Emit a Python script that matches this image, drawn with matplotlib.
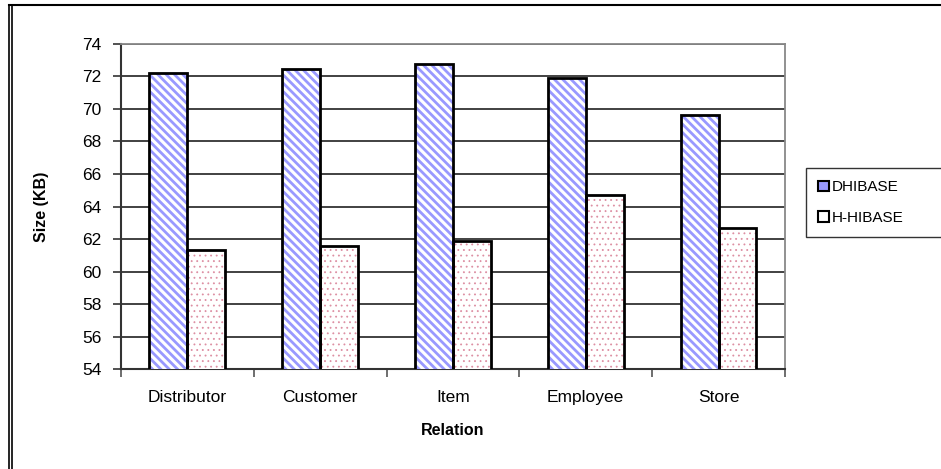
import numpy as np
import matplotlib as mpl
import matplotlib.pyplot as plt
from matplotlib.lines import Line2D
from matplotlib.patches import Patch

plt.rcParams['font.family'] = ['Liberation Sans', 'DejaVu Sans']

# Size of each relation under the two storage schemes
relations = ['Distributor', 'Customer', 'Item', 'Employee', 'Store']
dhibase = [72.2, 72.45, 72.75, 71.9, 69.65]
h_hibase = [61.3, 61.6, 61.9, 64.7, 62.7]

fig = plt.figure(figsize=(9.41, 4.69), dpi=100)
ax = fig.add_axes([0.1286, 0.2132, 0.7055, 0.6930])

x = np.arange(len(relations))
w = 1 / 3.5  # Excel gap width 150%

# hatched fills first, black outlines on top
with mpl.rc_context({'hatch.linewidth': 2.0}):
    ax.bar(x - w / 2, dhibase, w, color='white', edgecolor='#9999ff',
           hatch='\\\\\\\\', linewidth=0, zorder=3)
with mpl.rc_context({'hatch.linewidth': 0.6}):
    ax.bar(x + w / 2, h_hibase, w, color='white', edgecolor='#dd8fa3',
           hatch='...', linewidth=0, zorder=3)
ax.bar(x - w / 2, dhibase, w, fill=False, edgecolor='black', linewidth=2, zorder=4)
ax.bar(x + w / 2, h_hibase, w, fill=False, edgecolor='black', linewidth=2, zorder=4)

ax.set_xlim(-0.5, len(relations) - 0.5)
ax.set_ylim(54, 74)
ax.set_yticks(np.arange(54, 75, 2))
ax.yaxis.grid(True, color='#333333', linewidth=1.3, zorder=1)
ax.set_axisbelow(True)

# ticks on category borders, labels at centres
ax.set_xticks(np.arange(-0.5, len(relations), 1))
ax.set_xticklabels([])
ax.set_xticks(x, minor=True)
ax.set_xticklabels(relations, minor=True, fontsize=12.5)
ax.tick_params(axis='x', which='minor', length=0, pad=15)
ax.tick_params(axis='x', which='major', length=6, width=1.2, color='#555555')
ax.tick_params(axis='y', length=6, width=1.2, color='#333333', pad=8, labelsize=12.5)

for side in ['top', 'right']:
    ax.spines[side].set_color('#888888')
    ax.spines[side].set_linewidth(1.3)
for side in ['left', 'bottom']:
    ax.spines[side].set_color('#333333')
    ax.spines[side].set_linewidth(1.5)

ax.set_xlabel('Relation', fontsize=11.5, fontweight='bold', labelpad=13)
ax.set_ylabel('Size (KB)', fontsize=11.5, fontweight='bold', labelpad=24)

handles = [Patch(facecolor='#9999ff', edgecolor='black', linewidth=1.5),
           Patch(facecolor='white', edgecolor='black', linewidth=1.5)]
leg = fig.legend(handles, ['DHIBASE', 'H-HIBASE'], loc='upper left',
                 bbox_to_anchor=(806 / 941, 1 - 168 / 469, 0.2, 0.0), mode='expand',
                 frameon=True, fancybox=False, fontsize=11, handlelength=0.7,
                 handleheight=0.7, handletextpad=0.2, labelspacing=1.1,
                 borderpad=0.8, borderaxespad=0)
leg.get_frame().set_edgecolor('black')
leg.get_frame().set_linewidth(1.0)

# outer frame of the chart area
fig.add_artist(Line2D([9 / 941, 1], [1 - 5 / 469, 1 - 5 / 469], color='black', linewidth=1.5))
fig.add_artist(Line2D([9 / 941, 9 / 941], [0, 1 - 5 / 469], color='black', linewidth=1.2))
fig.add_artist(Line2D([12 / 941, 12 / 941], [0, 1 - 5 / 469], color='black', linewidth=1.2))

fig.savefig('out.png', dpi=100)
